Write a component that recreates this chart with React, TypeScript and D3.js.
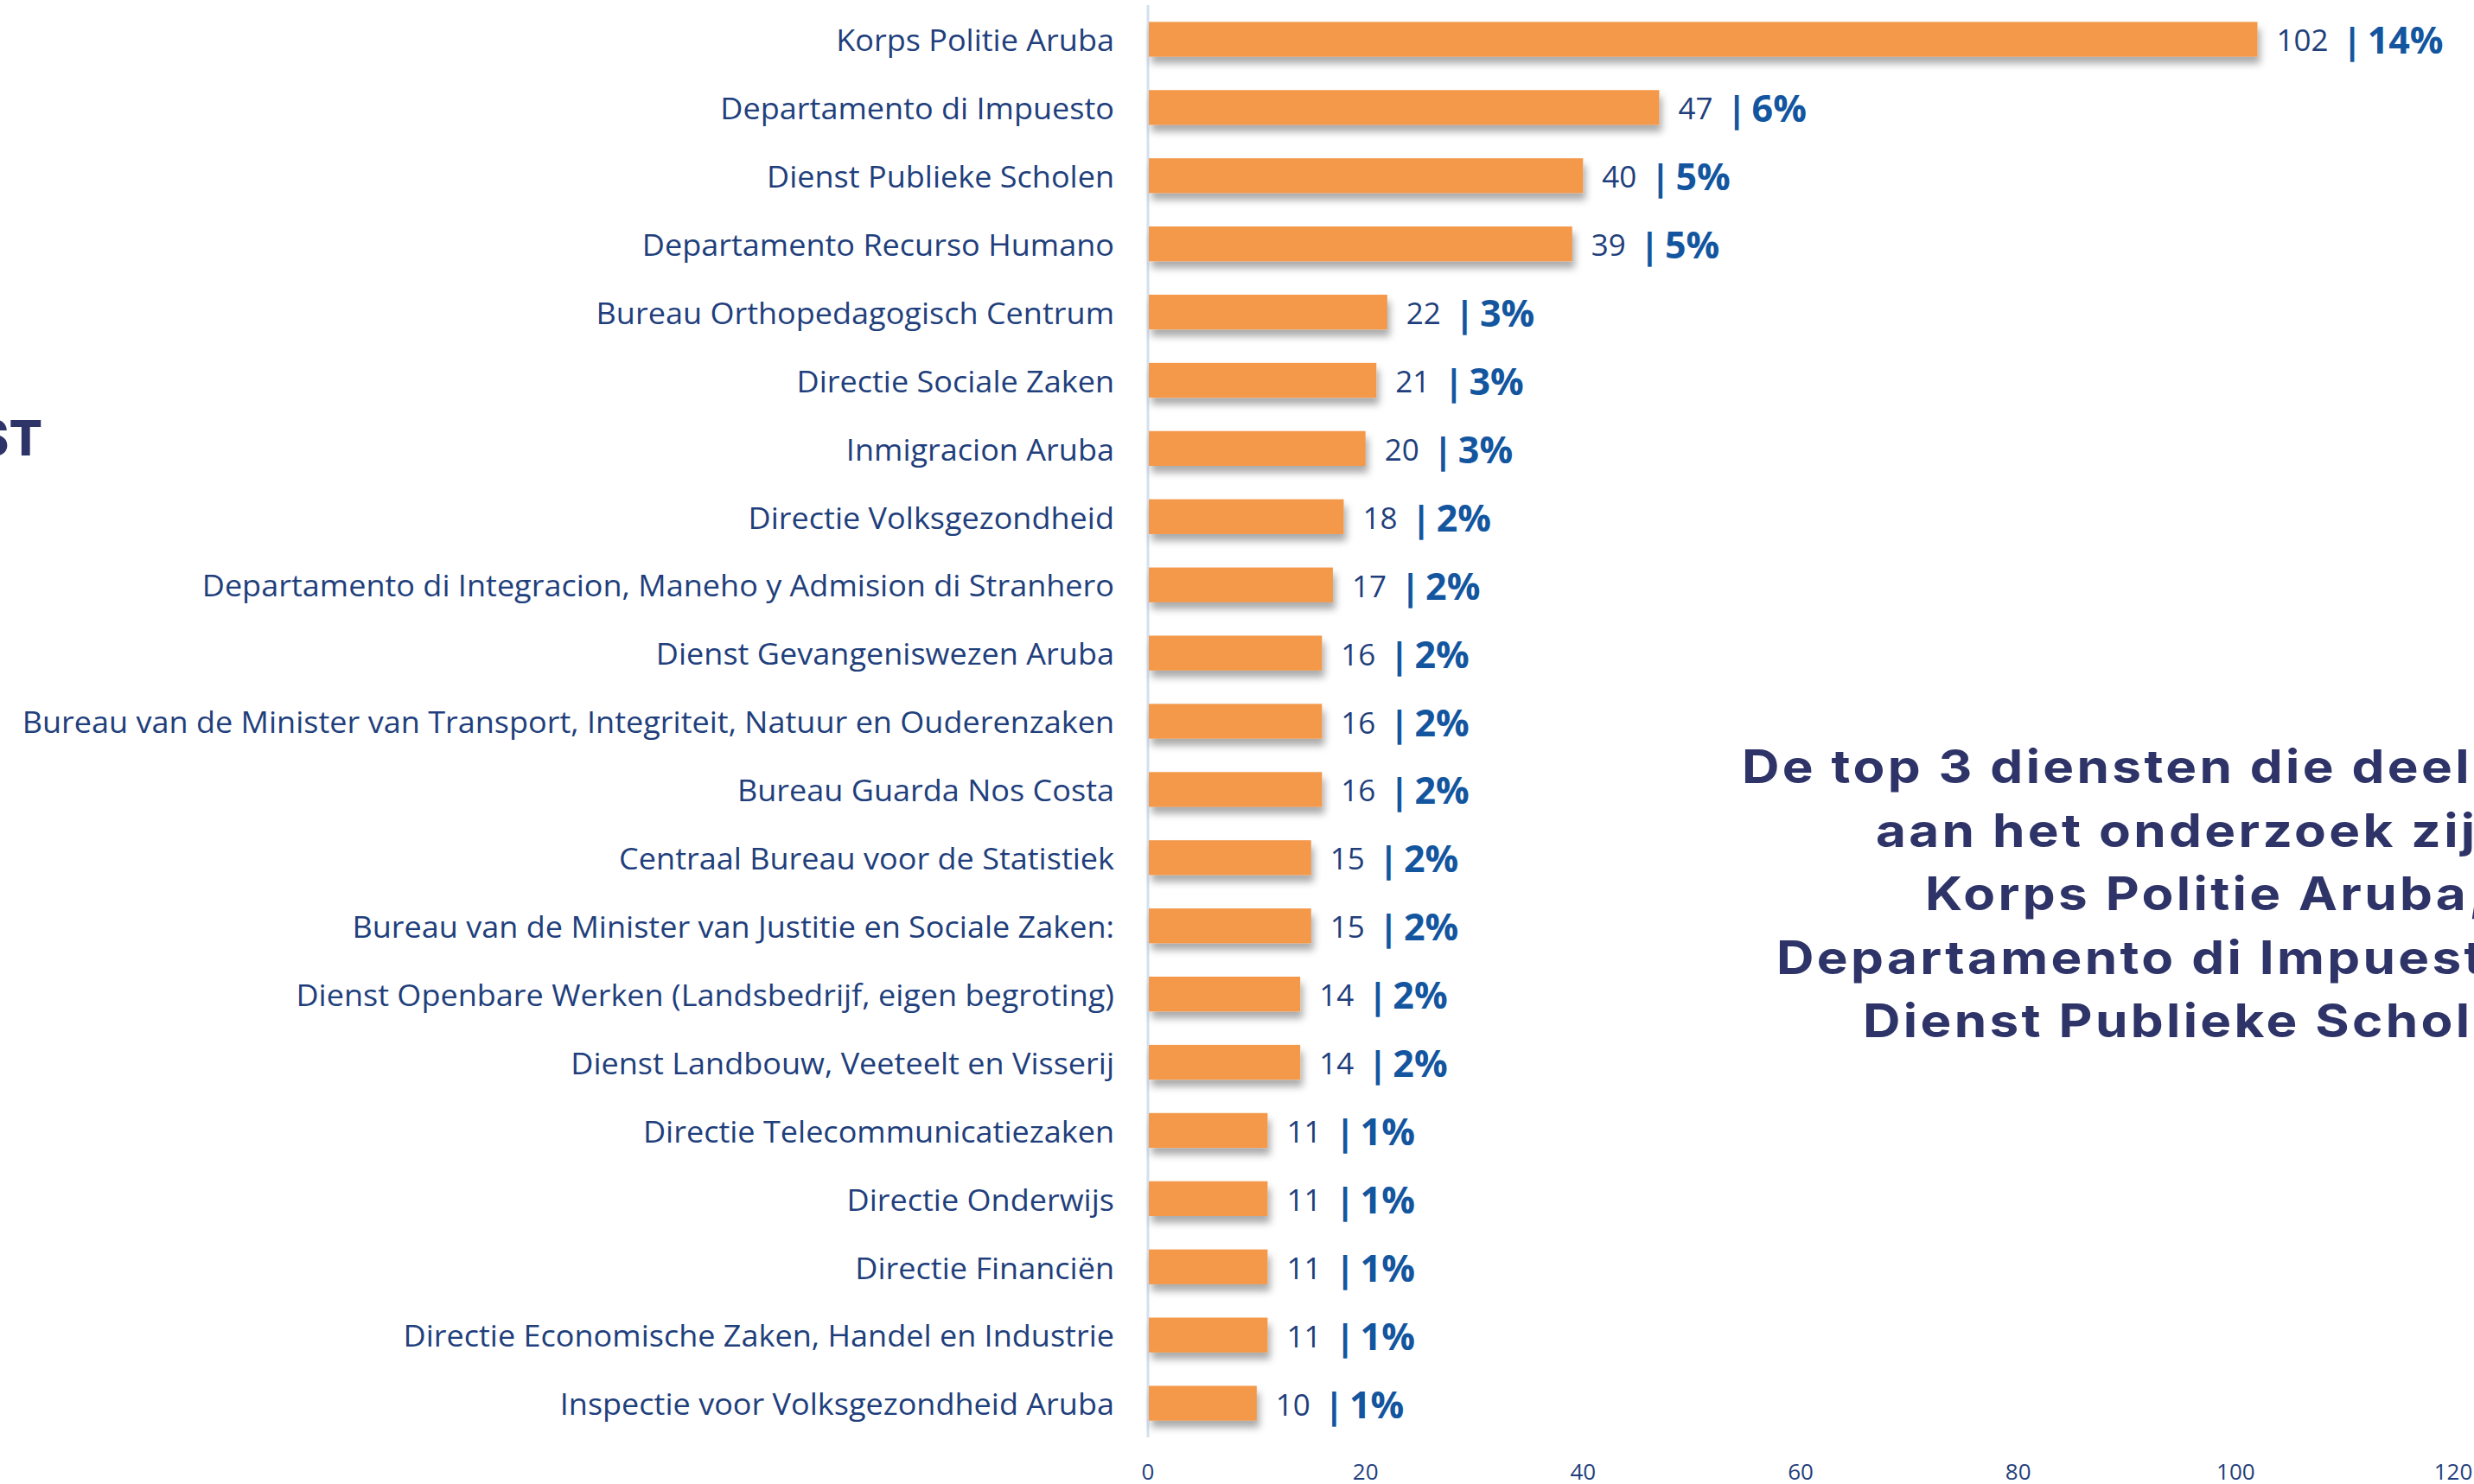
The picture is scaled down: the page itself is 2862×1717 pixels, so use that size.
import React from "react";
import * as d3 from "d3";

const categories = [
  "Korps Politie Aruba",
  "Departamento di Impuesto",
  "Dienst Publieke Scholen",
  "Departamento Recurso Humano",
  "Bureau Orthopedagogisch Centrum",
  "Directie Sociale Zaken",
  "Inmigracion Aruba",
  "Directie Volksgezondheid",
  "Departamento di Integracion, Maneho y Admision di Stranhero",
  "Dienst Gevangeniswezen Aruba",
  "Bureau van de Minister van Transport, Integriteit, Natuur en Ouderenzaken",
  "Bureau Guarda Nos Costa",
  "Centraal Bureau voor de Statistiek",
  "Bureau van de Minister van Justitie en Sociale Zaken:",
  "Dienst Openbare Werken (Landsbedrijf, eigen begroting)",
  "Dienst Landbouw, Veeteelt en Visserij",
  "Directie Telecommunicatiezaken",
  "Directie Onderwijs",
  "Directie Financiën",
  "Directie Economische Zaken, Handel en Industrie",
  "Inspectie voor Volksgezondheid Aruba",
];
const counts = [102, 47, 40, 39, 22, 21, 20, 18, 17, 16, 16, 16, 15, 15, 14, 14, 11, 11, 11, 11, 10];
const percents = ["14%", "6%", "5%", "5%", "3%", "3%", "3%", "2%", "2%", "2%", "2%", "2%", "2%", "2%", "2%", "2%", "1%", "1%", "1%", "1%", "1%"];
const xTicks = [0, 20, 40, 60, 80, 100, 120];
const titleTail = "PER DIENST";
const noteLines = [
  "De top 3 diensten die deelnamen",
  "aan het onderzoek zijn:",
  "Korps Politie Aruba,",
  "Departamento di Impuesto en",
  "Dienst Publieke Scholen.",
];

const W = 2862;
const H = 1717;

export default function App() {
  const x = d3.scaleLinear().domain([0, 120]).range([1328, 2838]);
  const y = d3
    .scaleBand<string>()
    .domain(categories)
    .range([6, 1663])
    .paddingInner(0.49)
    .paddingOuter(0.245);
  const bh = y.bandwidth();
  const labelFont = "'Open Sans', 'Noto Sans', sans-serif";
  const noteLeft = [2015, 2170, 2227, 2055, 2155];

  return (
    <svg
      width={W}
      height={H}
      style={{ position: "absolute", left: 0, top: 0, background: "#fff" }}
    >
      <defs>
        <filter id="shadow" x="-10%" y="-40%" width="120%" height="200%">
          <feDropShadow dx="3" dy="8" stdDeviation="4" floodColor="#000" floodOpacity="0.33" />
        </filter>
      </defs>
      <rect width={W} height={H} fill="#fff" />

      {/* clipped title on the left */}
      <text
        x={49}
        y={527}
        textAnchor="end"
        fontFamily="Inter, 'Open Sans', sans-serif"
        fontWeight={800}
        fontSize={57}
        fill="#2e3468"
      >
        {titleTail}
      </text>

      {/* axis line */}
      <line x1={x(0)} x2={x(0)} y1={6} y2={1663} stroke="#d3e0ef" strokeWidth={3} />

      {/* bars */}
      {categories.map((c, i) => (
        <rect
          key={c}
          x={x(0) + 1}
          y={y(c)!}
          width={x(counts[i]) - x(0) - 1}
          height={bh}
          fill="#f4984a"
          filter="url(#shadow)"
        />
      ))}

      {/* category labels */}
      {categories.map((c) => (
        <text
          key={"l" + c}
          transform={`translate(1289,${y(c)! + bh / 2}) scale(1.03,1)`}
          textAnchor="end"
          dominantBaseline="central"
          fontFamily={labelFont}
          fontSize={35}
          fill="#1f3f7c"
        >
          {c}
        </text>
      ))}

      {/* value labels */}
      {categories.map((c, i) => (
        <text
          key={"v" + c}
          x={x(counts[i]) + 22}
          y={y(c)! + bh / 2}
          dominantBaseline="central"
          fontFamily={labelFont}
        >
          <tspan fontSize={35} fill="#1f3f7c">
            {counts[i]}
          </tspan>
          <tspan dx={16} fontSize={42} fontWeight={700} fill="#13569f">
            |
          </tspan>
          <tspan dx={6} fontSize={43} fontWeight={700} fill="#13569f">
            {percents[i]}
          </tspan>
        </text>
      ))}

      {/* x tick labels */}
      {xTicks.map((t) => (
        <text
          key={"t" + t}
          x={x(t)}
          y={1702}
          textAnchor="middle"
          dominantBaseline="central"
          fontFamily={labelFont}
          fontSize={26}
          fill="#1f3f7c"
        >
          {t}
        </text>
      ))}

      {/* annotation */}
      {noteLines.map((l, i) => (
        <text
          key={"n" + i}
          transform={`translate(${noteLeft[i]},${906 + i * 73.5}) scale(1.115,1)`}
          fontFamily="Inter, 'Open Sans', sans-serif"
          fontWeight={700}
          fontSize={54}
          letterSpacing={3}
          fill="#2e3468"
        >
          {l}
        </text>
      ))}
    </svg>
  );
}
